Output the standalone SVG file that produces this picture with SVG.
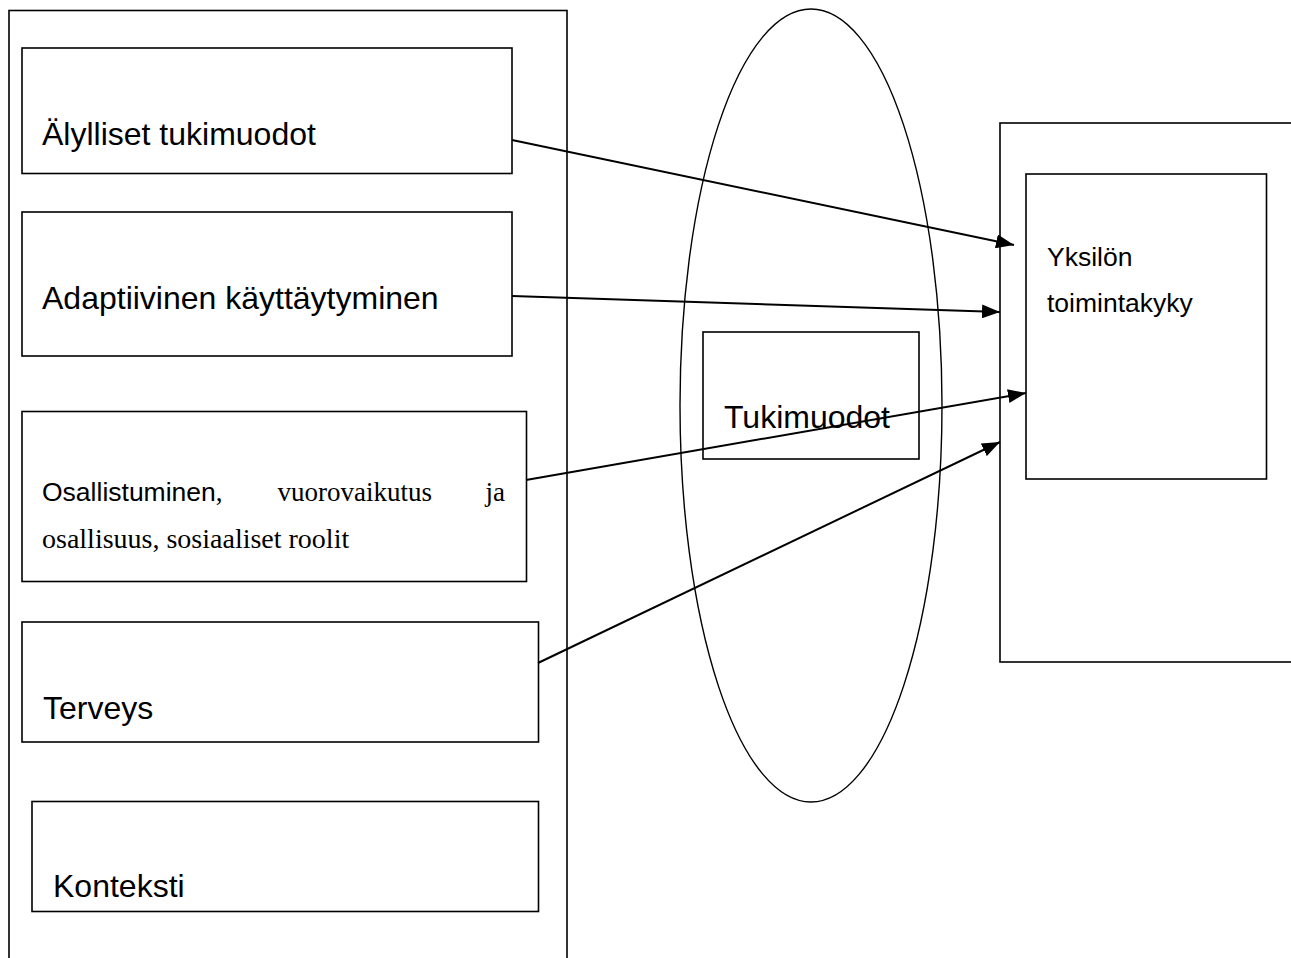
<svg xmlns="http://www.w3.org/2000/svg" width="1291" height="958" viewBox="0 0 1291 958">
<style>
.box{fill:none;stroke:#000;stroke-width:1.6}
.sans{font-family:"Liberation Sans",Arial,sans-serif;fill:#000}
.serif{font-family:"Liberation Serif","Times New Roman",serif;fill:#000}
.big{font-size:32px}
.conn{stroke:#000;stroke-width:2;fill:none;marker-end:url(#ah)}
</style>
<defs>
<marker id="ah" markerUnits="userSpaceOnUse" markerWidth="18" markerHeight="14" refX="18" refY="7" orient="auto">
<path d="M0,0 L18,7 L0,14 z" fill="#000"/>
</marker>
</defs>
<rect width="1291" height="958" fill="#fff"/>
<g id="left-container"><rect class="box" x="9" y="10.5" width="558" height="1000"/></g>
<g id="ellipse"><ellipse cx="811" cy="405.5" rx="131" ry="396.5" fill="none" stroke="#000" stroke-width="1.4"/></g>
<g id="right-container"><rect class="box" x="1000" y="123" width="330" height="539"/></g>
<g id="node-alylliset">
<rect class="box" x="22" y="48" width="490" height="125.5"/>
<text class="sans big" x="42" y="145">Älylliset tukimuodot</text>
</g>
<g id="node-adaptiivinen">
<rect class="box" x="22" y="212" width="490" height="144"/>
<text class="sans big" x="42" y="309">Adaptiivinen käyttäytyminen</text>
</g>
<g id="node-osallistuminen">
<rect class="box" x="22" y="411.5" width="504.5" height="170"/>
<text x="42" y="501"><tspan class="sans" font-size="26.5">Osallistuminen</tspan><tspan class="serif" font-size="27">,</tspan></text>
<text class="serif" font-size="27" x="432" y="501" text-anchor="end">vuorovaikutus</text>
<text class="serif" font-size="27" x="505" y="501" text-anchor="end">ja</text>
<text class="serif" font-size="28" x="42" y="548">osallisuus, sosiaaliset roolit</text>
</g>
<g id="node-terveys">
<rect class="box" x="22" y="622" width="516.5" height="120"/>
<text class="sans big" x="43" y="719">Terveys</text>
</g>
<g id="node-konteksti">
<rect class="box" x="32" y="801.5" width="506.5" height="110"/>
<text class="sans big" x="53" y="897">Konteksti</text>
</g>
<g id="node-tukimuodot">
<rect class="box" x="703" y="332" width="216" height="127"/>
<text class="sans big" x="724" y="428">Tukimuodot</text>
</g>
<g id="node-yksilon">
<rect class="box" x="1026" y="174" width="240.5" height="305"/>
<text class="sans" font-size="26.5" x="1047" y="266">Yksilön</text>
<text class="sans" font-size="26.5" x="1047" y="312">toimintakyky</text>
</g>
<g id="connectors">
<line class="conn" x1="512" y1="140" x2="1014" y2="245"/>
<line class="conn" x1="512" y1="296" x2="1000" y2="312"/>
<line class="conn" x1="526" y1="480" x2="1026" y2="393"/>
<line class="conn" x1="538" y1="663" x2="1000" y2="442"/>
</g>
</svg>
